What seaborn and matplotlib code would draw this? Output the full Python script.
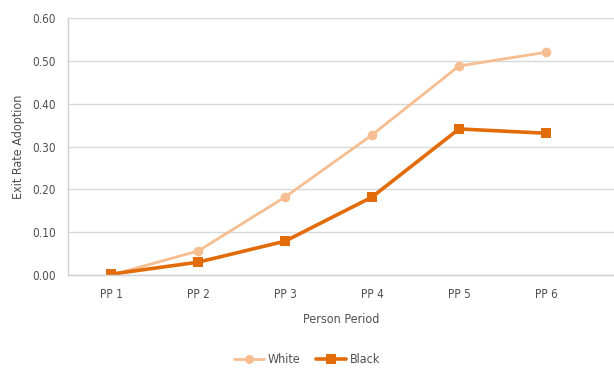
import matplotlib
matplotlib.use("Agg")
import matplotlib.pyplot as plt
import pandas as pd
import seaborn as sns

periods = ["PP 1", "PP 2", "PP 3", "PP 4", "PP 5", "PP 6"]
white_rate = [0.000, 0.056, 0.182, 0.327, 0.488, 0.520]
black_rate = [0.002, 0.030, 0.079, 0.182, 0.341, 0.331]

df = pd.DataFrame({
    "period": periods * 2,
    "rate": white_rate + black_rate,
    "group": ["White"] * len(periods) + ["Black"] * len(periods),
})

sns.set_style("white")
plt.rcParams["font.family"] = ["DejaVu Sans"]
plt.rcParams["font.stretch"] = "condensed"
text_col = "#505050"

fig = plt.figure(figsize=(6.14, 3.69), dpi=100)
ax = fig.add_axes([0.111, 0.2547, 0.889, 0.6965])

palette = {"White": "#F6BE90", "Black": "#E26B0A"}
sns.lineplot(data=df, x="period", y="rate", hue="group", style="group",
             markers={"White": "o", "Black": "s"}, dashes=False,
             palette=palette, markersize=7, markeredgewidth=0, ax=ax,
             legend=False, sort=False)
for line, lw in zip(ax.lines, [2.0, 2.6]):
    line.set_linewidth(lw)

ax.set_ylim(0, 0.6)
ax.set_xlim(-0.494, 5.782)
ax.set_yticks([0, 0.1, 0.2, 0.3, 0.4, 0.5, 0.6])
ax.set_yticklabels([f"{v:.2f}" for v in ax.get_yticks()])
ax.yaxis.grid(True, color="#d9d9d9", linewidth=1)
ax.set_axisbelow(True)
for s in ["top", "right"]:
    ax.spines[s].set_visible(False)
for s in ["left", "bottom"]:
    ax.spines[s].set_color("#d0d0d0")
    ax.spines[s].set_linewidth(1)
ax.tick_params(axis="both", length=0, labelsize=8.5, colors=text_col, pad=9)
ax.set_xlabel("Person Period", fontsize=9, color=text_col, labelpad=9)
ax.set_ylabel("Exit Rate Adoption", fontsize=9, color=text_col, labelpad=5)

handles = [
    plt.Line2D([], [], color=palette["White"], marker="o", lw=2.0, markersize=6.5, markeredgewidth=0),
    plt.Line2D([], [], color=palette["Black"], marker="s", lw=2.6, markersize=6.5, markeredgewidth=0),
]
fig.legend(handles, ["White", "Black"], loc="center", bbox_to_anchor=(0.5, 0.025),
           ncol=2, frameon=False, fontsize=9, labelcolor=text_col,
           handlelength=2.4, handletextpad=0.3, columnspacing=1.2)

fig.savefig("out.png", dpi=100)
